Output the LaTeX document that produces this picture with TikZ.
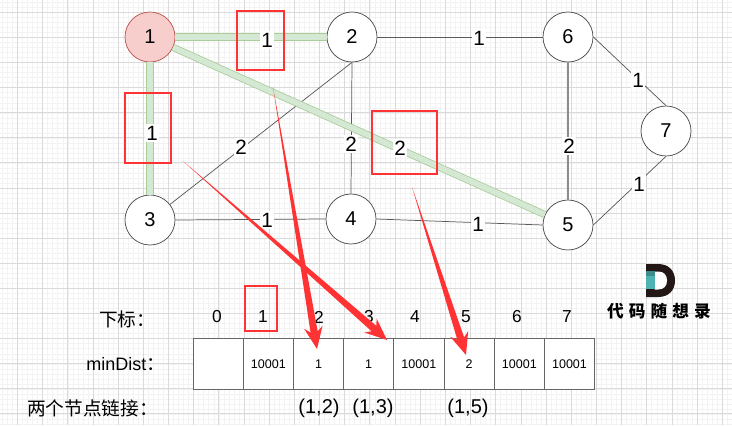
\documentclass[tikz,border=0pt]{standalone}
\usepackage{fontspec}
\setmainfont{Liberation Sans}
\newfontfamily\cjk{Noto Sans CJK SC}
\usetikzlibrary{calc}
\definecolor{gridminor}{HTML}{F3F3F3}
\definecolor{gridmajor}{HTML}{DADADA}
\definecolor{redbox}{HTML}{FF3333}
\definecolor{edgegreen}{HTML}{D5E8D4}
\definecolor{edgegreendark}{HTML}{A9CC99}
\definecolor{nodepink}{HTML}{F8CECC}
\definecolor{nodepinkline}{HTML}{B85450}
\definecolor{logodark}{HTML}{231815}
\definecolor{logoteal}{HTML}{4FB3B3}
\definecolor{logotealdark}{HTML}{3F8C8C}
\tikzset{
 x=0.75pt,y=-0.75pt,
 vertex/.style={circle,draw=black!70,fill=white,line width=0.55pt,minimum size=37.5pt,inner sep=0pt,font=\fontsize{15}{15}\selectfont},
 startvertex/.style={vertex,fill=nodepink,draw=nodepinkline},
 plain/.style={draw=black!65,line width=0.55pt},
 greenout/.style={draw=edgegreendark,line width=5.4pt},
 greenin/.style={draw=edgegreen,line width=4.2pt},
 elabel/.style={fill=white,inner sep=1.2pt,font=\fontsize{15.5}{15.5}\selectfont},
 redframe/.style={draw=redbox,line width=2.2pt},
 cell/.style={draw=black!60,line width=0.6pt,fill=white,minimum width=37.7pt,minimum height=37.7pt,inner sep=0pt,font=\fontsize{9.4}{10}\selectfont},
 idx/.style={inner sep=0pt,font=\fontsize{13}{13}\selectfont},
 captext/.style={inner sep=0pt,font=\fontsize{13.5}{14}\selectfont},
 parentext/.style={inner sep=0pt,font=\fontsize{15}{15}\selectfont},
 capcjk/.style={inner sep=0pt,font=\cjk\fontsize{14}{15}\selectfont},
 redfill/.style={fill=redbox,draw=none},
}
% tapered freehand arrow from coordinate #1 to coordinate #2
\newcommand{\taperarrow}[2]{%
 \coordinate (neck) at ($(#2)!13pt!(#1)$);
 \coordinate (inner) at ($(#2)!16.5pt!(#1)$);
 \fill[redfill] (#1)
  -- ($(neck)!2.7pt!90:(#2)$)
  -- ($(inner)!7pt!90:(#2)$)
  -- (#2)
  -- ($(inner)!7pt!-90:(#2)$)
  -- ($(neck)!2.7pt!-90:(#2)$)
  -- cycle;
}
\begin{document}
\begin{tikzpicture}
\useasboundingbox (0,0) rectangle (732,425);
% grid
\begin{scope}
\clip (0,0) rectangle (732,425);
\foreach \k in {0,...,150}{
  \draw[gridminor,line width=0.45pt] ({2.4+5.034*\k},0) -- ({2.4+5.034*\k},425);
  \draw[gridminor,line width=0.45pt] (0,{2.4+5.02*\k}) -- (732,{2.4+5.02*\k});
}
\foreach \k in {0,...,29}{
  \draw[gridmajor,line width=0.6pt] ({17.5+25.17*\k},0) -- ({17.5+25.17*\k},425);
}
\foreach \k in {0,...,17}{
  \draw[gridmajor,line width=0.6pt] (0,{12.2+25.1*\k}) -- (732,{12.2+25.1*\k});
}
\end{scope}
% vertices
\node[startvertex] (n1) at (150,37) {1};
\node[vertex] (n2) at (352,37) {2};
\node[vertex] (n6) at (568,37) {6};
\node[vertex] (n7) at (666,131) {7};
\node[vertex] (n5) at (568,225) {5};
\node[vertex] (n3) at (150,220) {3};
\node[vertex] (n4) at (351,219) {4};
% edges
\draw[plain] (n2) -- (n6);
\draw[plain] (n2.south) -- (n4.north);
\draw[plain] (n2.south) -- (n3);
\draw[plain,line width=1.1pt,draw=black!45] (n6) -- (n5);
\draw[plain] (n6.east) -- (n7.north);
\draw[plain] (n7.south) -- (n5.east);
\draw[plain] (n3.east) -- (n4.west);
\draw[plain] (n4.east) -- (n5.west);
\draw[greenout] (n1) -- (n2);
\draw[greenin] (n1) -- (n2);
\draw[greenout] (n1) -- (n3);
\draw[greenin] (n1) -- (n3);
\draw[greenout] (n1) -- (n5);
\draw[greenin] (n1) -- (n5);
% edge labels
\node[elabel] (l12) at (267,40) {1};
\node[elabel] (l13) at (152,133) {1};
\node[elabel] (l15) at (400,148) {2};
\node[elabel] (l23) at (241,147) {2};
\node[elabel] (l24) at (351,144) {2};
\node[elabel] (l26) at (479,38) {1};
\node[elabel] (l65) at (569,146) {2};
\node[elabel] (l67) at (638,80) {1};
\node[elabel] (l75) at (639,184) {1};
\node[elabel] (l34) at (267,220) {1};
\node[elabel] (l45) at (478,224) {1};
% red frames
\draw[redframe] (237,11) rectangle (284,70);
\draw[redframe] (125,93) rectangle (171,163);
\draw[redframe] (372,111) rectangle (437,174);
\draw[redframe] (245,286) rectangle (277,331);
% table
\foreach \i/\t [count=\c from 0] in {a/,b/10001,c/1,d/1,e/10001,f/2,g/10001,h/10001}{
  \node[cell] (c\i) at ({218.1+50.2*\c},364) {\t};
}
% index row
\node[idx] (i0) at (217,317) {0};
\node[idx] (i1) at (263,317) {1};
\node[idx] (i2) at (319,317) {2};
\node[idx] (i3) at (369,317) {3};
\node[idx] (i4) at (415,317) {4};
\node[idx] (i5) at (466,317) {5};
\node[idx] (i6) at (517,317) {6};
\node[idx] (i7) at (567,317) {7};
% captions
\node[capcjk,anchor=west] (t1) at (99,319) {下标：};
\node[captext,anchor=west] (t2) at (86,364) {minDist\cjk\fontsize{14}{15}\selectfont ：};
\node[capcjk,anchor=west] (t3) at (27,408) {两个节点链接：};
\node[parentext] (p1) at (319,408) {(1,2)};
\node[parentext] (p2) at (373,408) {(1,3)};
\node[parentext] (p3) at (468,408) {(1,5)};
% red arrows
\coordinate (a1s) at (273,87);
\coordinate (a1e) at (317,349);
\coordinate (a2s) at (183,161);
\coordinate (a2e) at (387,340);
\coordinate (a3s) at (412,187);
\coordinate (a3e) at (466,355);
\taperarrow{a1s}{a1e}
\taperarrow{a2s}{a2e}
\taperarrow{a3s}{a3e}
% logo
\fill[logodark] (646,264) -- (658,264) .. controls (669,264) and (675,271) .. (675,280.5) .. controls (675,290) and (669,297) .. (658,297) -- (646,297) -- cycle;
\fill[white] (654.5,271.5) -- (658,271.5) .. controls (664,271.5) and (667,275) .. (667,280.5) .. controls (667,286) and (664,289.5) .. (658,289.5) -- (654.5,289.5) -- cycle;
\fill[logoteal] (646,276) rectangle (654.5,289);
\fill[logotealdark] (646,271) rectangle (654.5,276);
\node[inner sep=0pt,font=\cjk\bfseries\fontsize{12.5}{13}\selectfont] (logo) at (659,311) {代\hspace{3.8pt}码\hspace{3.8pt}随\hspace{3.8pt}想\hspace{3.8pt}录};
\end{tikzpicture}
\end{document}
